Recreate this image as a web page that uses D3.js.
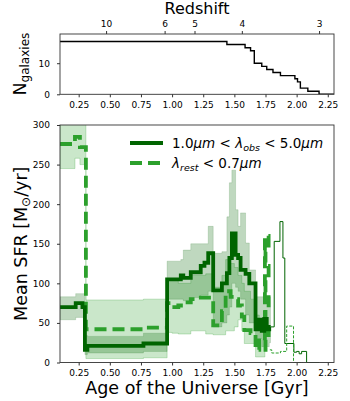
<!DOCTYPE html>
<html>
<head>
<meta charset="utf-8">
<script src="https://cdn.jsdelivr.net/npm/d3@7"></script>
<style>
  body { margin: 0; background: #fff; }
  svg { font-family: "DejaVu Sans", sans-serif; }
</style>
</head>
<body>
<div id="vis"></div>
<script>
// frame and panel constants
const FRAME_WIDTH = 350;
const FRAME_HEIGHT = 401;
const LEFT = 60, RIGHT = 334;
const TOP_PANEL = {top: 34, bottom: 94.3};
const SFR_PANEL = {top: 125, bottom: 362.5};

// tick values
const AGE_TICKS = [0.25, 0.50, 0.75, 1.00, 1.25, 1.50, 1.75, 2.00, 2.25];
const Z_TICKS = [10, 6, 5, 4, 3];
const Z_TICK_AGE = [0.47, 0.94, 1.18, 1.56, 2.18];
const N_TICKS = [0, 10];
const SFR_TICKS = [0, 50, 100, 150, 200, 250, 300];

// number of galaxies vs age (step after)
const nAge = [0.10, 1.44, 1.586, 1.63, 1.66, 1.72, 1.76, 1.81, 1.87, 1.986, 2.007, 2.03, 2.09, 2.18, 2.30];
const nGal = [17, 16, 15, 14, 10, 9, 8, 7, 6, 5, 4, 2, 1, 0, 0];

// 1.0um < lambda_obs < 5.0um : mean SFR with band (step after)
const obsAge = [0.10, 0.226, 0.28, 0.30, 0.32, 0.77, 0.96, 1.07, 1.09, 1.15, 1.23, 1.26, 1.29, 1.33, 1.40, 1.44, 1.46, 1.48, 1.51, 1.53, 1.55, 1.59, 1.62, 1.67, 1.70, 1.72, 1.74, 1.76, 1.78, 1.79];
const obsSfr = [70, 75, 70, 16, 21, 24, 105, 110, 107, 114, 122, 126, 138, 91, 100, 113, 132, 163, 136, 132, 117, 112, 100, 42, 54, 40, 55, 42, 45, 45];
const obsLo  = [54, 57, 57, 10, 12, 14, 80, 80, 78, 82, 85, 85, 90, 45, 50, 60, 70, 100, 95, 90, 80, 60, 50, 20, 30, 20, 30, 20, 25, 25];
const obsHi  = [83, 87, 87, 34, 33, 37, 128, 130, 142, 150, 150, 150, 172, 138, 140, 184, 227, 243, 193, 172, 189, 151, 117, 83, 83, 83, 83, 83, 83, 83];

// lambda_rest < 0.7um : mean SFR with band (step after)
const restAge = [0.10, 0.22, 0.26, 0.308, 0.77, 0.96, 1.00, 1.05, 1.10, 1.15, 1.20, 1.27, 1.33, 1.40, 1.43, 1.47, 1.50, 1.53, 1.56, 1.58, 1.63, 1.67, 1.70, 1.745];
const restSfr = [276, 285, 272, 42, 44, 75, 70, 72, 76, 80, 82, 82, 47, 65, 90, 83, 80, 72, 58, 41, 37, 16, 28, 28];
const restLo  = [245, 258, 250, 5, 6, 38, 37, 36, 36, 40, 40, 36, 35, 35, 40, 40, 45, 54, 40, 24, 24, 7, 7, 7];
const restHi  = [310, 310, 310, 79, 80, 105, 105, 100, 100, 110, 110, 112, 95, 110, 130, 125, 120, 110, 100, 90, 80, 60, 50, 50];

// zig-zag of the dashed line before it turns thin
const zigAge = [1.745, 1.745, 1.775, 1.775, 1.750, 1.750, 1.775, 1.775, 1.750, 1.750, 1.775, 1.775, 1.750, 1.750, 1.775, 1.775, 1.750, 1.750, 1.785];
const zigSfr = [28, 160, 160, 140, 140, 122, 122, 104, 104, 86, 86, 68, 68, 50, 50, 32, 32, 16, 16];

// thin tails
const obsTailAge = [1.79, 1.82, 1.866, 1.89, 1.905, 1.978, 2.00, 2.02, 2.04, 2.08, 2.18];
const obsTailSfr = [45, 153, 178, 132, 24, 13, 14, 11, 14, 0, 0];
const restTailAge = [1.785, 1.80, 1.87, 1.92, 1.975, 2.05];
const restTailSfr = [16, 12, 14, 46, 0, 0];

// colours
const DARK = "#006400";
const GREEN = "#2ca02c";

const svg = d3.select("#vis")
  .append("svg")
    .attr("width", FRAME_WIDTH)
    .attr("height", FRAME_HEIGHT);

// scales
const X_SCALE = d3.scaleLinear().domain([0.10, 2.30]).range([LEFT, RIGHT]);
const N_SCALE = d3.scaleLinear().domain([0, 19.4]).range([TOP_PANEL.bottom, TOP_PANEL.top]);
const Y_SCALE = d3.scaleLinear().domain([0, 300]).range([SFR_PANEL.bottom, SFR_PANEL.top]);

function pairs(xs, ys) { return xs.map((x, i) => [x, ys[i]]); }

// ---- top panel ----
svg.append("clipPath").attr("id", "clip1")
  .append("rect").attr("x", LEFT).attr("y", TOP_PANEL.top)
  .attr("width", RIGHT - LEFT).attr("height", TOP_PANEL.bottom - TOP_PANEL.top);

svg.append("path")
  .datum(pairs(nAge, nGal))
  .attr("clip-path", "url(#clip1)")
  .attr("fill", "none")
  .attr("stroke", "#000")
  .attr("stroke-width", 1.4)
  .attr("d", d3.line().curve(d3.curveStepAfter)
    .x((d) => X_SCALE(d[0])).y((d) => N_SCALE(d[1])));

svg.append("g")
  .attr("class", "axis")
  .attr("transform", "translate(0," + TOP_PANEL.bottom + ")")
  .call(d3.axisBottom(X_SCALE).tickValues(AGE_TICKS).tickFormat(d3.format(".2f"))
    .tickSizeOuter(0).tickSize(3).tickPadding(4.5));

svg.append("g")
  .attr("class", "axis")
  .attr("transform", "translate(" + LEFT + ",0)")
  .call(d3.axisLeft(N_SCALE).tickValues(N_TICKS).tickSizeOuter(0).tickSize(3).tickPadding(7));

svg.append("g")
  .attr("class", "axis")
  .attr("transform", "translate(0," + TOP_PANEL.top + ")")
  .call(d3.axisTop(X_SCALE).tickValues(Z_TICK_AGE)
    .tickFormat((d, i) => Z_TICKS[i]).tickSizeOuter(0).tickSize(3).tickPadding(4));

svg.append("rect")
  .attr("x", LEFT).attr("y", TOP_PANEL.top)
  .attr("width", RIGHT - LEFT).attr("height", TOP_PANEL.bottom - TOP_PANEL.top)
  .attr("fill", "none").attr("stroke", "#333").attr("stroke-width", 0.9);

// ---- bottom panel ----
svg.append("clipPath").attr("id", "clip2")
  .append("rect").attr("x", LEFT).attr("y", SFR_PANEL.top)
  .attr("width", RIGHT - LEFT).attr("height", SFR_PANEL.bottom - SFR_PANEL.top);

const plot = svg.append("g").attr("clip-path", "url(#clip2)");

const band = d3.area().curve(d3.curveStepAfter)
  .x((d) => X_SCALE(d[0])).y0((d) => Y_SCALE(d[1])).y1((d) => Y_SCALE(d[2]));
const step = d3.line().curve(d3.curveStepAfter)
  .x((d) => X_SCALE(d[0])).y((d) => Y_SCALE(d[1]));
const lin = d3.line()
  .x((d) => X_SCALE(d[0])).y((d) => Y_SCALE(d[1]));

plot.append("path")
  .datum(restAge.map((x, i) => [x, restLo[i], restHi[i]]))
  .attr("fill", GREEN).attr("fill-opacity", 0.25)
  .attr("stroke", GREEN).attr("stroke-opacity", 0.25).attr("stroke-width", 1)
  .attr("d", band);

plot.append("path")
  .datum(obsAge.map((x, i) => [x, obsLo[i], obsHi[i]]))
  .attr("fill", DARK).attr("fill-opacity", 0.25)
  .attr("stroke", DARK).attr("stroke-opacity", 0.15).attr("stroke-width", 1)
  .attr("d", band);

// thin tails
plot.append("path")
  .datum(pairs(obsTailAge, obsTailSfr))
  .attr("fill", "none").attr("stroke", DARK).attr("stroke-width", 1)
  .attr("d", step);
plot.append("path")
  .datum(pairs(restTailAge, restTailSfr))
  .attr("fill", "none").attr("stroke", GREEN).attr("stroke-width", 1)
  .attr("stroke-dasharray", "3,1.5")
  .attr("d", step);

// thick mean lines
plot.append("path")
  .datum(pairs(restAge, restSfr))
  .attr("fill", "none").attr("stroke", GREEN).attr("stroke-width", 3.8)
  .attr("stroke-dasharray", "12,6")
  .attr("d", step);
plot.append("path")
  .datum(pairs(zigAge, zigSfr))
  .attr("fill", "none").attr("stroke", GREEN).attr("stroke-width", 3.8)
  .attr("stroke-dasharray", "12,6")
  .attr("d", lin);
plot.append("path")
  .datum(pairs(obsAge, obsSfr))
  .attr("fill", "none").attr("stroke", DARK).attr("stroke-width", 3.8)
  .attr("d", step);

svg.append("g")
  .attr("class", "axis")
  .attr("transform", "translate(0," + SFR_PANEL.bottom + ")")
  .call(d3.axisBottom(X_SCALE).tickValues(AGE_TICKS).tickFormat(d3.format(".2f"))
    .tickSizeOuter(0).tickSize(3).tickPadding(4.5));

svg.append("g")
  .attr("class", "axis")
  .attr("transform", "translate(" + LEFT + ",0)")
  .call(d3.axisLeft(Y_SCALE).tickValues(SFR_TICKS).tickSizeOuter(0).tickSize(3).tickPadding(7));

svg.append("rect")
  .attr("x", LEFT).attr("y", SFR_PANEL.top)
  .attr("width", RIGHT - LEFT).attr("height", SFR_PANEL.bottom - SFR_PANEL.top)
  .attr("fill", "none").attr("stroke", "#333").attr("stroke-width", 0.9);

svg.selectAll(".axis .domain").remove();
svg.selectAll(".axis text").attr("font-size", "9px").attr("fill", "#000").attr("font-family", "DejaVu Sans");
svg.selectAll(".axis line").attr("stroke", "#333");

// ---- legend ----
const legend = svg.append("g");
legend.append("line")
  .attr("x1", 130).attr("x2", 163).attr("y1", 143).attr("y2", 143)
  .attr("stroke", DARK).attr("stroke-width", 3.8);
legend.append("line")
  .attr("x1", 130).attr("x2", 163).attr("y1", 163).attr("y2", 163)
  .attr("stroke", GREEN).attr("stroke-width", 3.8).attr("stroke-dasharray", "12,6");

const t1 = legend.append("text").attr("x", 172).attr("y", 148).attr("font-size", "13.5px");
t1.append("tspan").text("1.0");
t1.append("tspan").attr("font-style", "italic").text("μm");
t1.append("tspan").text(" < ");
t1.append("tspan").attr("font-style", "italic").text("λ");
t1.append("tspan").attr("font-style", "italic").attr("font-size", "9.5px").attr("dy", 3).text("obs");
t1.append("tspan").attr("dy", -3).text(" < 5.0");
t1.append("tspan").attr("font-style", "italic").text("μm");

const t2 = legend.append("text").attr("x", 172).attr("y", 168).attr("font-size", "13.5px");
t2.append("tspan").attr("font-style", "italic").text("λ");
t2.append("tspan").attr("font-style", "italic").attr("font-size", "9.5px").attr("dy", 3).text("rest");
t2.append("tspan").attr("dy", -3).text(" < 0.7");
t2.append("tspan").attr("font-style", "italic").text("μm");

// ---- axis titles ----
svg.append("text")
  .attr("x", (LEFT + RIGHT) / 2).attr("y", 14)
  .attr("text-anchor", "middle").attr("font-size", "16px")
  .text("Redshift");

svg.append("text")
  .attr("x", (LEFT + RIGHT) / 2).attr("y", 394)
  .attr("text-anchor", "middle").attr("font-size", "17.5px")
  .text("Age of the Universe [Gyr]");

const nLabel = svg.append("text")
  .attr("transform", "translate(26," + (TOP_PANEL.top + TOP_PANEL.bottom) / 2 + ") rotate(-90)")
  .attr("text-anchor", "middle").attr("font-size", "17.5px");
nLabel.append("tspan").text("N");
nLabel.append("tspan").attr("font-size", "12px").attr("dy", 3).text("galaxies");

const sfrLabel = svg.append("text")
  .attr("transform", "translate(27," + (SFR_PANEL.top + SFR_PANEL.bottom) / 2 + ") rotate(-90)")
  .attr("text-anchor", "middle").attr("font-size", "17.5px");
sfrLabel.append("tspan").text("Mean SFR [M");
sfrLabel.append("tspan").attr("font-size", "12px").attr("dy", 3).text("⊙");
sfrLabel.append("tspan").attr("dy", -3).text("/yr]");
</script>
</body>
</html>
